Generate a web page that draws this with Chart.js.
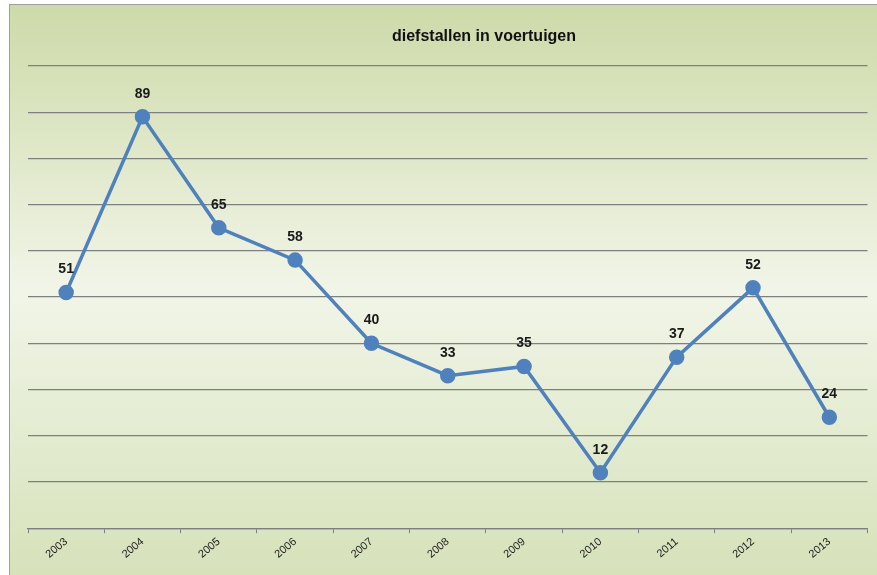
<!DOCTYPE html>
<html>
<head>
<meta charset="utf-8">
<script src="https://cdn.jsdelivr.net/npm/chart.js@4.4.0/dist/chart.umd.min.js"></script>
<style>
  html, body { margin: 0; padding: 0; background: #fff; }
  #wrap { width: 877px; height: 575px; }
</style>
</head>
<body>
<div id="wrap"><canvas id="myChart" width="877" height="575"></canvas></div>
<script>
const years = ['2003', '2004', '2005', '2006', '2007', '2008', '2009', '2010', '2011', '2012', '2013'];
const thefts = [51, 89, 65, 58, 40, 33, 35, 12, 37, 52, 24];
const yMin = 0;
const yMax = 100;
const yStep = 10;
const chartTitle = 'diefstallen in voertuigen';

const FONT = '"Liberation Sans", sans-serif';

// green gradient panel with grey frame behind everything
const panel = {
  id: 'panel',
  beforeDraw(chart) {
    const ctx = chart.ctx;
    const g = ctx.createLinearGradient(0, 4, 0, 575);
    g.addColorStop(0, '#cddaa8');
    g.addColorStop(0.5, '#f1f5e8');
    g.addColorStop(1, '#d6e2ba');
    ctx.save();
    ctx.fillStyle = g;
    ctx.fillRect(9, 4, 868, 571);
    ctx.strokeStyle = '#a0a0a0';
    ctx.lineWidth = 1;
    ctx.strokeRect(9.5, 4.5, 870, 575);
    ctx.restore();
  },
  afterDraw(chart) {
    const ctx = chart.ctx;
    ctx.save();
    ctx.font = 'bold 16px ' + FONT;
    ctx.fillStyle = '#111';
    ctx.textAlign = 'center';
    ctx.textBaseline = 'middle';
    ctx.fillText(chartTitle, 484, 37);
    ctx.restore();
  }
};

// value labels above each point
const valueLabels = {
  id: 'valueLabels',
  afterDatasetsDraw(chart) {
    const ctx = chart.ctx;
    const meta = chart.getDatasetMeta(0);
    ctx.save();
    ctx.font = 'bold 14px ' + FONT;
    ctx.fillStyle = '#1a1a1a';
    ctx.textAlign = 'center';
    ctx.textBaseline = 'middle';
    meta.data.forEach((pt, i) => {
      ctx.fillText(chart.data.datasets[0].data[i], pt.x, pt.y - 23);
    });
    ctx.restore();
  }
};

new Chart('myChart', {
  type: 'line',
  data: {
    labels: years,
    datasets: [{
      data: thefts,
      borderColor: '#4f81bd',
      backgroundColor: '#4f81bd',
      borderWidth: 3.5,
      pointRadius: 6,
      pointHoverRadius: 6,
      tension: 0
    }]
  },
  options: {
    responsive: false,
    animation: false,
    layout: { padding: { left: 28, right: -2, top: 66, bottom: 12 } },
    plugins: {
      legend: { display: false },
      title: { display: false },
      tooltip: { enabled: false }
    },
    scales: {
      x: {
        offset: true,
        grid: { offset: true, drawOnChartArea: false, drawTicks: true, tickLength: 5, color: '#7f7f7f' },
        border: { display: true, color: '#7f7f7f', width: 1.3 },
        ticks: {
          minRotation: 40, maxRotation: 40,
          color: '#222',
          font: { family: FONT, size: 11 },
          padding: 2
        }
      },
      y: {
        min: yMin, max: yMax,
        ticks: { display: false, stepSize: yStep },
        grid: { color: '#7f7f7f', lineWidth: 1.3, drawTicks: false },
        border: { display: false }
      }
    }
  },
  plugins: [panel, valueLabels]
});
</script>
</body>
</html>
